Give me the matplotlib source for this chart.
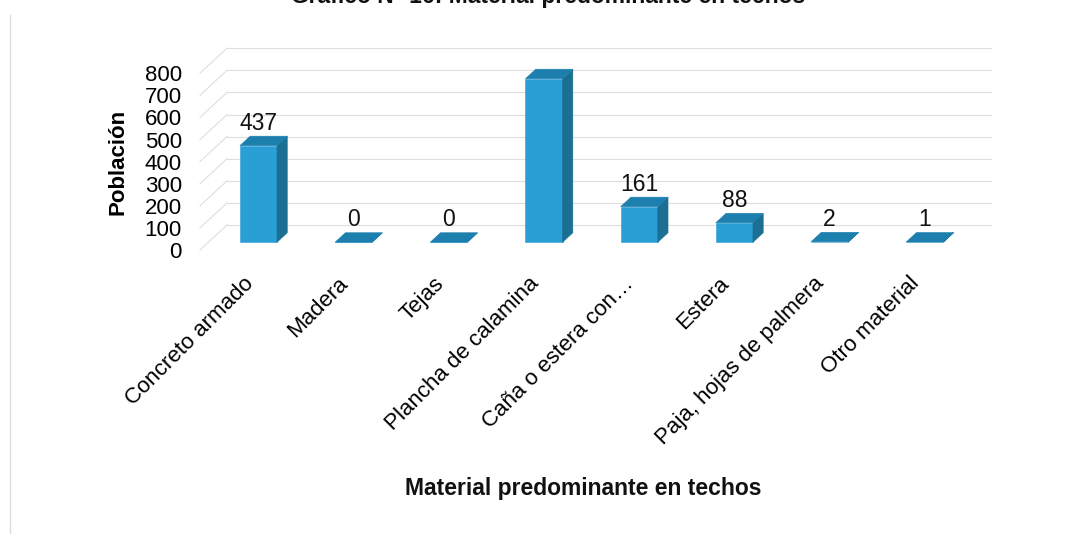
import matplotlib.pyplot as plt
from matplotlib.patches import Polygon
from matplotlib.lines import Line2D
import numpy as np

plt.rcParams['font.family'] = ['Liberation Sans', 'DejaVu Sans']

#data
categories = ['Concreto armado', 'Madera', 'Tejas', 'Plancha de calamina',
              'Caña o estera con\u2026', 'Estera', 'Paja, hojas de palmera', 'Otro material']
values = [437, 0, 0, 740, 161, 88, 2, 1]
yticks = [0, 100, 200, 300, 400, 500, 600, 700, 800]

front_col = '#2a9fd6'
side_col = '#1b6f93'
top_col = '#1c7fae'
grid_col = '#dedede'

fig = plt.figure(figsize=(10.67, 5.34), dpi=100)
# axes = front plane of the floor
ax = fig.add_axes([200/1067, 1-250/534, 764/1067, 176.8/534])
ax.set_xlim(-0.526, 7.5)
ax.set_ylim(0, 800)

# oblique depth: full depth moves 27 px right, 25 px up
px_x = 764/8.026
px_y = 176.8/800
def ox(d):
    return d*27/px_x
def oy(d):
    return d*25/px_y

f0, f1 = 0.31, 0.69
w = 0.39
x = np.arange(len(values))

# back wall and side wall grid
for v in yticks:
    ax.add_line(Line2D([-0.526+ox(1), 7.5+ox(1)], [v+oy(1), v+oy(1)],
                       color=grid_col, lw=0.8, clip_on=False))
    ax.add_line(Line2D([-0.526, -0.526+ox(1)], [v, v+oy(1)],
                       color=grid_col, lw=0.8, clip_on=False))

# bars
xf = x + ox(f0)
ax.bar(xf, values, width=w, bottom=oy(f0), color=front_col,
       edgecolor=front_col, linewidth=0.4, clip_on=False, zorder=3)
for xi, v in zip(x, values):
    side = [(xi+w/2+ox(f0), oy(f0)), (xi+w/2+ox(f1), oy(f1)),
            (xi+w/2+ox(f1), v+oy(f1)), (xi+w/2+ox(f0), v+oy(f0))]
    top = [(xi-w/2+ox(f0), v+oy(f0)), (xi+w/2+ox(f0), v+oy(f0)),
           (xi+w/2+ox(f1), v+oy(f1)), (xi-w/2+ox(f1), v+oy(f1))]
    ax.add_patch(Polygon(side, closed=True, fc=side_col, ec=side_col, lw=0.4,
                         clip_on=False, zorder=3))
    ax.add_patch(Polygon(top, closed=True, fc=top_col, ec=top_col, lw=0.4,
                         clip_on=False, zorder=3))
    ax.annotate(str(v), (xi+ox(f0), v+oy(f1)), xytext=(0, 4.5),
                textcoords='offset points', ha='center', va='baseline',
                fontsize=16.5, color='#111111')

ax.set_xticks(x)
ax.set_xticklabels(categories, fontsize=16)
plt.setp(ax.get_xticklabels(), rotation=45, ha='right', va='center',
         rotation_mode='anchor')
ax.set_yticks(yticks)
ax.set_yticklabels([str(t) for t in yticks], fontsize=16)
ax.tick_params(axis='x', length=0, pad=22)
ax.tick_params(axis='y', length=0, pad=13)
for s in ax.spines.values():
    s.set_visible(False)
ax.patch.set_alpha(0)

ax.set_ylabel('Población', fontsize=16, fontweight='bold')
ax.yaxis.set_label_coords(-0.094, 0.5)

fig.text(583/1067, 1-488/534, 'Material predominante en techos', fontsize=16.5,
         fontweight='bold', ha='center', va='center', color='#111111')
# title cut at the top edge of the scan
fig.text(548/1067, 1-3/534, 'Gráfico N° 16: Material predominante en techos',
         fontsize=16.5, fontweight='bold', ha='center', va='baseline', color='#111111')

# faint chart border on the left
fig.add_artist(Line2D([10/1067, 10/1067], [0, 1-15/534], color='#dcdcdc', lw=1))

fig.savefig('out.png', dpi=100)
